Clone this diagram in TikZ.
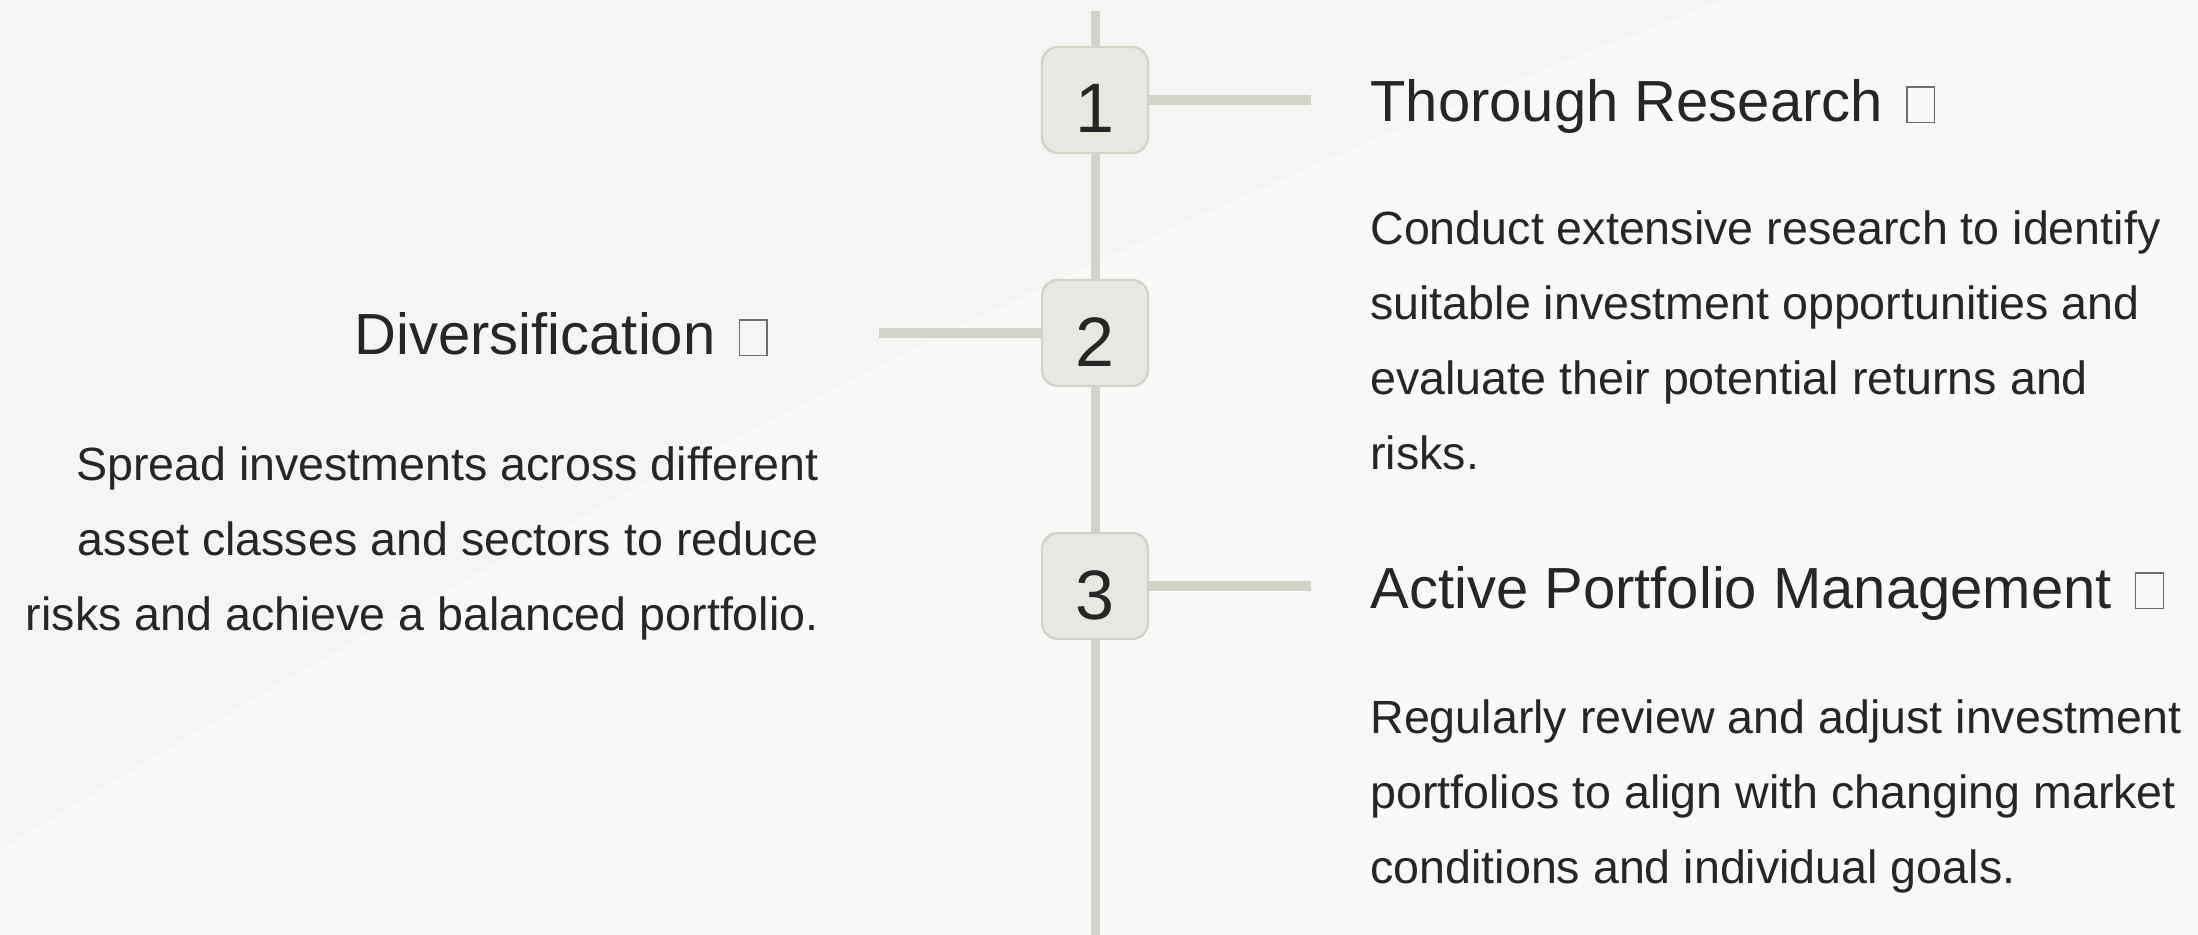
\documentclass[tikz,border=0pt]{standalone}
\usepackage{fontspec}
\setmainfont{Liberation Sans}
\usetikzlibrary{positioning}

\definecolor{bgdark}{HTML}{F5F5F3}
\definecolor{bgmid}{HTML}{F7F7F5}
\definecolor{bglight}{HTML}{F9F9F8}
\definecolor{stepfill}{HTML}{E8E8E3}
\definecolor{stepline}{HTML}{D3D3CA}
\definecolor{inktext}{HTML}{262626}
\definecolor{tofuline}{HTML}{6E6E6E}

% empty glyph box shown after each title
\newcommand{\tofubox}{\hspace{3.5pt}{\color{tofuline}\fboxsep=0pt\fboxrule=0.7pt\fbox{\rule{0pt}{17.1pt}\hspace{13.1pt}}}}

\begin{document}
\begin{tikzpicture}[
  x=0.5pt, y=-0.5pt,
  stepbox/.style={
    rectangle,
    rounded corners=8pt,
    draw=stepline,
    line width=1.2pt,
    fill=stepfill,
    inner sep=0pt,
    minimum size=53pt,
    text=inktext,
    text height=33pt,
    text depth=0pt,
    font=\fontsize{35}{42}\selectfont
  },
  spine/.style={
    draw=stepline,
    line width=4.5pt
  },
  branch/.style={
    draw=stepline,
    line width=5pt
  },
  steptitle/.style={
    inner sep=0pt,
    text=inktext,
    font=\fontsize{29}{35}\selectfont
  },
  stepbody/.style={
    inner sep=0pt,
    text=inktext,
    font=\fontsize{23.3}{37.5}\selectfont
  }]
  % background
  \fill[bgdark] (0,0) rectangle (2198,935);
  \fill[bgmid] (1780,0) .. controls (1300,170) and (700,430) .. (0,870)
    -- (0,935) -- (2198,935) -- (2198,0) -- cycle;
  \fill[bglight] (1724,0) .. controls (1300,160) and (700,420) .. (0,850)
    -- (0,935) -- (2198,935) -- (2198,0) -- cycle;
  \useasboundingbox (0,0) rectangle (2198,935);

  \coordinate (top) at (1095,11);
  \coordinate (bottom) at (1095,935);
  \node[stepbox] (step1) at (1095,100) {1};
  \node[stepbox] (step2) at (1095,333) {2};
  \node[stepbox] (step3) at (1095,586) {3};

  \draw[spine] (top) -- (step1);
  \draw[spine] (step1) -- (step2);
  \draw[spine] (step2) -- (step3);
  \draw[spine] (step3) -- (bottom);

  \coordinate (end1) at (1311,100);
  \coordinate (end2) at (879,333);
  \coordinate (end3) at (1311,586);
  \draw[branch] (step1) -- (end1);
  \draw[branch] (end2) -- (step2);
  \draw[branch] (step3) -- (end3);

  \node[steptitle, anchor=base west] (title1) at (1370,122) {Thorough Research \tofubox};
  \node[stepbody, anchor=base west] (body1) at (1370,245) {\begin{tabular}[t]{@{}l@{}}
    Conduct extensive research to identify\\
    suitable investment opportunities and\\
    evaluate their potential returns and\\
    risks.
  \end{tabular}};

  \node[steptitle, anchor=base east] (title2) at (768,355) {Diversification \tofubox};
  \node[stepbody, anchor=base east] (body2) at (819,480) {\begin{tabular}[t]{@{}r@{}}
    Spread investments across different\\
    asset classes and sectors to reduce\\
    risks and achieve a balanced portfolio.
  \end{tabular}};

  \node[steptitle, anchor=base west] (title3) at (1370,608) {Active Portfolio Management \tofubox};
  \node[stepbody, anchor=base west] (body3) at (1370,733) {\begin{tabular}[t]{@{}l@{}}
    Regularly review and adjust investment\\
    portfolios to align with changing market\\
    conditions and individual goals.
  \end{tabular}};
\end{tikzpicture}
\end{document}
